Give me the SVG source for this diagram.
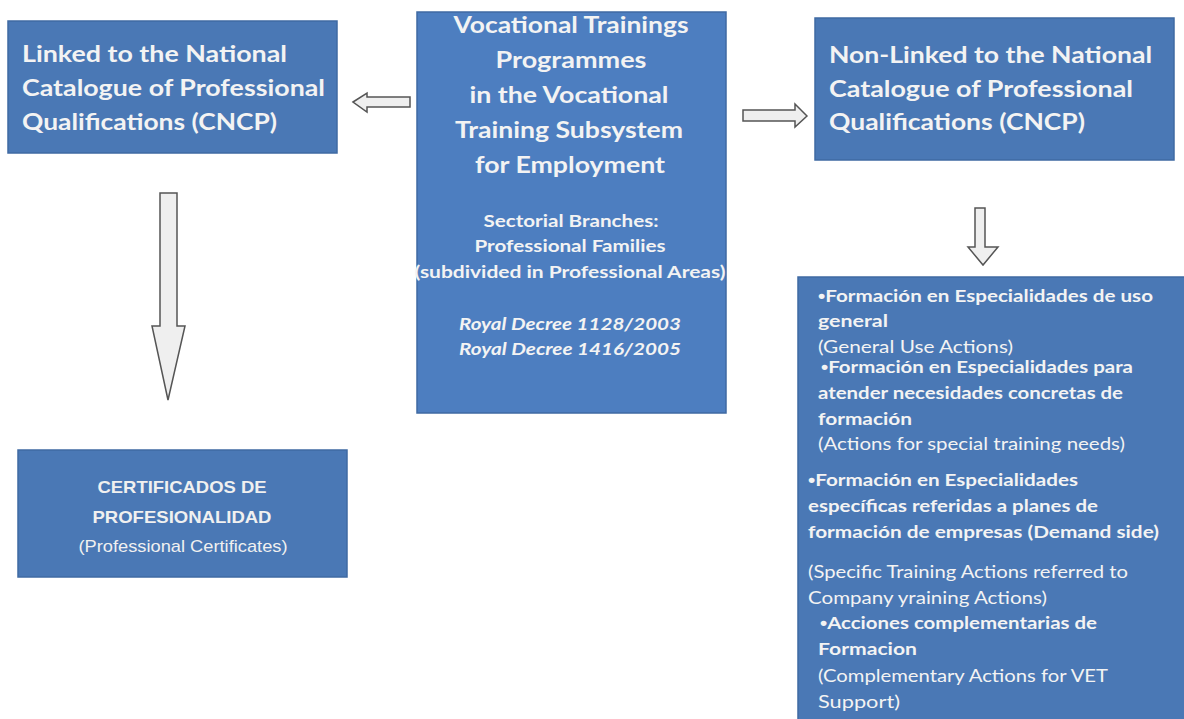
<svg xmlns="http://www.w3.org/2000/svg" width="1184" height="719" viewBox="0 0 1184 719">
<style>
.box{fill:#4a78b5;stroke:#3f6aa3;stroke-width:1.5}
.t{font-family:Lato,"Liberation Sans",sans-serif;fill:#f3f3f3}
.h{font-size:23px;font-weight:bold}
.m{font-size:17px;font-weight:bold}
.r{font-size:17.5px;font-weight:normal}
.b{font-size:17.5px;font-weight:bold}
.c{text-anchor:middle}
.bl{font-family:"Liberation Sans",sans-serif}
.a{font-family:"Liberation Sans",Arial,sans-serif;fill:#f0f0f0;font-size:17px;text-anchor:middle}
.arr{fill:#efefef;stroke:#555;stroke-width:1.5;stroke-linejoin:miter}
</style>
<rect width="1184" height="719" fill="#ffffff"/>
<g id="connectors">
<polygon class="arr" points="353,102 367,93 367,97 410,97 410,107 367,107 367,112"/>
<polygon class="arr" points="807,116 795,104 795,110 743,110 743,121 795,121 795,127"/>
<polygon class="arr" points="160,193 177,193 177,326 185,326 168,400 152,326 160,326"/>
<polygon class="arr" points="975,208 985,208 985,247 998,247 983,265 968,247 975,247"/>
</g>
<g id="linked">
<rect class="box" x="8" y="21" width="329" height="132"/>
<text class="t h" x="22" y="62" textLength="265" lengthAdjust="spacingAndGlyphs">Linked to the National</text>
<text class="t h" x="22" y="96" textLength="303" lengthAdjust="spacingAndGlyphs">Catalogue of Professional</text>
<text class="t h" x="22" y="130" textLength="255" lengthAdjust="spacingAndGlyphs">Qualifications (CNCP)</text>
</g>
<g id="center">
<rect class="box" x="417" y="12" width="309" height="401" style="fill:#4d7ec0"/>
<text class="t h c" x="571" y="33" textLength="235" lengthAdjust="spacingAndGlyphs">Vocational Trainings</text>
<text class="t h c" x="571" y="68" textLength="151" lengthAdjust="spacingAndGlyphs">Programmes</text>
<text class="t h c" x="569" y="103" textLength="199" lengthAdjust="spacingAndGlyphs">in the Vocational</text>
<text class="t h c" x="569" y="138" textLength="228" lengthAdjust="spacingAndGlyphs">Training Subsystem</text>
<text class="t h c" x="570" y="173" textLength="190" lengthAdjust="spacingAndGlyphs">for Employment</text>
<text class="t m c" x="571" y="227" textLength="175" lengthAdjust="spacingAndGlyphs">Sectorial Branches:</text>
<text class="t m c" x="570" y="252" textLength="191" lengthAdjust="spacingAndGlyphs">Professional Families</text>
<text class="t m c" x="570" y="278" textLength="311" lengthAdjust="spacingAndGlyphs">(subdivided in Professional Areas)</text>
<text class="t m c" x="570" y="330" font-style="italic" textLength="222" lengthAdjust="spacingAndGlyphs">Royal Decree 1128/2003</text>
<text class="t m c" x="570" y="355" font-style="italic" textLength="222" lengthAdjust="spacingAndGlyphs">Royal Decree 1416/2005</text>
</g>
<g id="nonlinked">
<rect class="box" x="815" y="18" width="359" height="142"/>
<text class="t h" x="829" y="63" textLength="323" lengthAdjust="spacingAndGlyphs">Non-Linked to the National</text>
<text class="t h" x="829" y="97" textLength="304" lengthAdjust="spacingAndGlyphs">Catalogue of Professional</text>
<text class="t h" x="829" y="130" textLength="256" lengthAdjust="spacingAndGlyphs">Qualifications (CNCP)</text>
</g>
<g id="certificados">
<rect class="box" x="18" y="450" width="329" height="127"/>
<text class="a" x="182" y="493" font-weight="bold" textLength="169" lengthAdjust="spacingAndGlyphs">CERTIFICADOS DE</text>
<text class="a" x="182" y="523" font-weight="bold" textLength="179" lengthAdjust="spacingAndGlyphs">PROFESIONALIDAD</text>
<text class="a" x="183" y="552" textLength="209" lengthAdjust="spacingAndGlyphs">(Professional Certificates)</text>
</g>
<g id="actions">
<rect class="box" x="798" y="277" width="390" height="446"/>
<text class="t b" x="818" y="302" textLength="335" lengthAdjust="spacingAndGlyphs"><tspan class="bl">•</tspan>Formación en Especialidades de uso</text>
<text class="t b" x="818" y="327" textLength="70" lengthAdjust="spacingAndGlyphs">general</text>
<text class="t r" x="818" y="353" textLength="195" lengthAdjust="spacingAndGlyphs">(General Use Actions)</text>
<text class="t b" x="821" y="373" textLength="312" lengthAdjust="spacingAndGlyphs"><tspan class="bl">•</tspan>Formación en Especialidades para</text>
<text class="t b" x="818" y="399" textLength="305" lengthAdjust="spacingAndGlyphs">atender necesidades concretas de</text>
<text class="t b" x="818" y="425" textLength="94" lengthAdjust="spacingAndGlyphs">formación</text>
<text class="t r" x="818" y="450" textLength="307" lengthAdjust="spacingAndGlyphs">(Actions for special training needs)</text>
<text class="t b" x="808" y="486" textLength="270" lengthAdjust="spacingAndGlyphs"><tspan class="bl">•</tspan>Formación en Especialidades</text>
<text class="t b" x="808" y="512" textLength="290" lengthAdjust="spacingAndGlyphs">específicas referidas a planes de</text>
<text class="t b" x="808" y="538" textLength="351" lengthAdjust="spacingAndGlyphs">formación de empresas (Demand side)</text>
<text class="t r" x="808" y="578" textLength="320" lengthAdjust="spacingAndGlyphs">(Specific Training Actions referred to</text>
<text class="t r" x="808" y="604" textLength="239" lengthAdjust="spacingAndGlyphs">Company yraining Actions)</text>
<text class="t b" x="820" y="629" textLength="277" lengthAdjust="spacingAndGlyphs"><tspan class="bl">•</tspan>Acciones complementarias de</text>
<text class="t b" x="818" y="655" textLength="99" lengthAdjust="spacingAndGlyphs">Formacion</text>
<text class="t r" x="818" y="682" textLength="290" lengthAdjust="spacingAndGlyphs">(Complementary Actions for VET</text>
<text class="t r" x="818" y="708" textLength="82" lengthAdjust="spacingAndGlyphs">Support)</text>
</g>
</svg>
